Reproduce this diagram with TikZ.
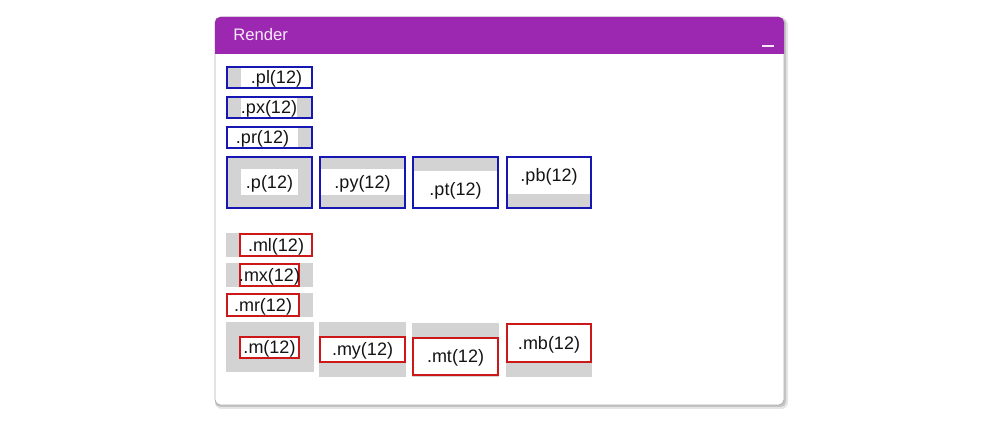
\documentclass[tikz,border=0pt]{standalone}
\usepackage{fontspec}
\setmainfont{Liberation Sans}
\usetikzlibrary{fit}
\definecolor{hdr}{RGB}{156,39,176}
\definecolor{pblue}{RGB}{22,22,178}
\definecolor{mred}{RGB}{204,24,24}
\definecolor{mgrey}{RGB}{211,211,211}
\definecolor{txt}{RGB}{20,20,20}
\definecolor{hdrtxt}{RGB}{248,232,250}
\tikzset{
  lbl/.style={font=\fontsize{13.5}{15}\selectfont, text=txt, inner sep=0, yshift=-1.1pt},
  greyarea/.style={fill=mgrey, draw=none, inner sep=0},
  whitearea/.style={fill=white, draw=none, inner sep=0},
  pborder/.style={draw=pblue, line width=1.5pt, inner sep=0},
  mborder/.style={draw=mred, line width=1.5pt, fill=white, inner sep=0},
}
\begin{document}
\begin{tikzpicture}[x=0.75pt,y=-0.75pt]
\useasboundingbox (0,0) rectangle (1004,423);
% window shadow and body
\fill[black, opacity=0.10, rounded corners=5] (215,18) rectangle (788,409);
\fill[black, opacity=0.15, rounded corners=4] (215,18) rectangle (786,407);
\fill[white, rounded corners=4] (215,17) rectangle (784,405);
\draw[black!30, line width=0.6pt, rounded corners=4] (215,17) rectangle (784,405);
% header
\begin{scope}
\clip (0,0) rectangle (1004,54);
\fill[hdr, rounded corners=4] (215,17) rectangle (784,70);
\end{scope}
\node[font=\fontsize{12.5}{15}\selectfont, text=hdrtxt, anchor=base west, inner sep=0] (title) at (233,41) {Render};
\coordinate (minA) at (762,46);
\coordinate (minB) at (774,46);
\draw[hdrtxt, line width=1.6pt] (minA) -- (minB);

% ---------- padding examples ----------
% .pl
\node[greyarea, fit={(227,67)(312,88)}] (plg) {};
\node[whitearea, fit={(241,67)(312,88)}] (plw) {};
\node[pborder, fit={(227,67)(312,88)}] (plb) {};
\node[lbl] (pl) at (plw.center) {.pl(12)};
% .px
\node[greyarea, fit={(227,97)(312,118)}] (pxg) {};
\node[whitearea, fit={(241,97)(297,118)}] (pxw) {};
\node[pborder, fit={(227,97)(312,118)}] (pxb) {};
\node[lbl] (px) at (pxw.center) {.px(12)};
% .pr
\node[greyarea, fit={(227,127)(312,148)}] (prg) {};
\node[whitearea, fit={(227,127)(298,148)}] (prw) {};
\node[pborder, fit={(227,127)(312,148)}] (prb) {};
\node[lbl] (pr) at (prw.center) {.pr(12)};
% .p
\node[greyarea, fit={(227,157)(312,208)}] (pg) {};
\node[whitearea, fit={(241,169)(298,195)}] (pw) {};
\node[pborder, fit={(227,157)(312,208)}] (pb0) {};
\node[lbl] (p) at (pw.center) {.p(12)};
% .py
\node[greyarea, fit={(320,157)(405,208)}] (pyg) {};
\node[whitearea, fit={(320,169)(405,195)}] (pyw) {};
\node[pborder, fit={(320,157)(405,208)}] (pyb) {};
\node[lbl] (py) at (pyw.center) {.py(12)};
% .pt
\node[greyarea, fit={(413,157)(498,208)}] (ptg) {};
\node[whitearea, fit={(413,171)(498,208)}] (ptw) {};
\node[pborder, fit={(413,157)(498,208)}] (ptb) {};
\node[lbl] (pt) at (ptw.center) {.pt(12)};
% .pb
\node[greyarea, fit={(507,157)(591,208)}] (pbg) {};
\node[whitearea, fit={(507,157)(591,194)}] (pbw) {};
\node[pborder, fit={(507,157)(591,208)}] (pbb) {};
\node[lbl] (pbt) at (pbw.center) {.pb(12)};

% ---------- margin examples ----------
% .ml
\node[greyarea, fit={(226,233)(313,257)}] (mlg) {};
\node[mborder, fit={(240,234)(312,256)}] (mlb) {};
\node[lbl] (ml) at (mlb.center) {.ml(12)};
% .mx
\node[greyarea, fit={(226,263)(313,287)}] (mxg) {};
\node[mborder, fit={(240,264)(299,286)}] (mxb) {};
\node[lbl] (mx) at (mxb.center) {.mx(12)};
% .mr
\node[greyarea, fit={(226,293)(313,317)}] (mrg) {};
\node[mborder, fit={(227,294)(299,316)}] (mrb) {};
\node[lbl] (mr) at (mrb.center) {.mr(12)};
% .m
\node[greyarea, fit={(226,322)(314,372)}] (mg) {};
\node[mborder, fit={(240,337)(299,358)}] (mb0) {};
\node[lbl] (m) at (mb0.center) {.m(12)};
% .my
\node[greyarea, fit={(319,322)(406,377)}] (myg) {};
\node[mborder, fit={(320,337)(405,362)}] (myb) {};
\node[lbl] (my) at (myb.center) {.my(12)};
% .mt
\node[greyarea, fit={(412,323)(499,377)}] (mtg) {};
\node[mborder, fit={(413,338)(498,375)}] (mtb) {};
\node[lbl] (mt) at (mtb.center) {.mt(12)};
% .mb
\node[greyarea, fit={(506,323)(592,377)}] (mbg) {};
\node[mborder, fit={(507,324)(591,362)}] (mbb) {};
\node[lbl] (mbt) at (mbb.center) {.mb(12)};
\end{tikzpicture}
\end{document}
